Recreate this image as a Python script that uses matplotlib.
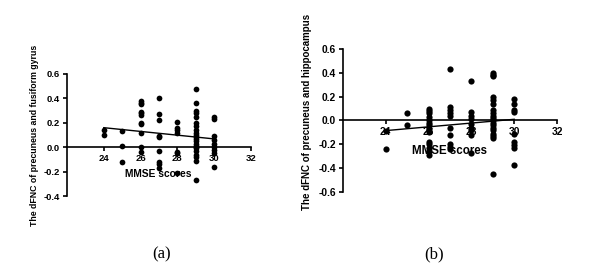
import matplotlib
matplotlib.use('Agg')
import matplotlib.pyplot as plt
import numpy as np

plt.rcParams['font.family'] = ['Liberation Sans', 'DejaVu Sans']
plt.rcParams['font.weight'] = 'bold'

# panel (a): MMSE vs dFNC precuneus-fusiform gyrus
mmse_a = ([24] * 2 + [25] * 3 + [26] * 11 + [27] * 9 + [28] * 7 + [29] * 22 + [30] * 9)
dfnc_a = [0.14, 0.10,
          0.13, 0.01, -0.12,
          0.38, 0.36, 0.35, 0.29, 0.28, 0.26, 0.20, 0.19, 0.12, 0.00, -0.04,
          0.40, 0.27, 0.22, 0.09, 0.08, -0.03, -0.12, -0.14, -0.17,
          0.21, 0.16, 0.14, 0.12, -0.04, -0.05, -0.21,
          0.48, 0.36, 0.30, 0.28, 0.25, 0.20, 0.17, 0.14, 0.12, 0.10, 0.08,
          0.07, 0.05, 0.03, 0.01, 0.00, -0.01, -0.03, -0.06, -0.08, -0.11, -0.27,
          0.25, 0.23, 0.09, 0.06, 0.03, 0.00, -0.02, -0.05, -0.16]
fit_x_a = [24, 30]
fit_y_a = [0.16, 0.068]

# panel (b): MMSE vs dFNC precuneus-hippocampus
mmse_b = ([24] * 2 + [25] * 2 + [26] * 14 + [27] * 10 + [28] * 9 + [29] * 19 + [30] * 9)
dfnc_b = [-0.24, -0.09,
          0.066, -0.04,
          0.10, 0.08, 0.06, 0.03, 0.00, -0.02, -0.04, -0.07, -0.10, -0.18, -0.20, -0.23, -0.26, -0.29,
          0.43, 0.11, 0.09, 0.06, 0.04, -0.06, -0.12, -0.20, -0.22, -0.24,
          0.33, 0.07, 0.04, 0.01, -0.03, -0.06, -0.08, -0.12, -0.27,
          0.40, 0.38, 0.37, 0.20, 0.17, 0.14, 0.09, 0.06, 0.04, 0.02, 0.00,
          -0.02, -0.04, -0.06, -0.08, -0.11, -0.13, -0.15, -0.45,
          0.18, 0.14, 0.09, 0.07, -0.11, -0.18, -0.21, -0.23, -0.37]
fit_x_b = [24, 30]
fit_y_b = [-0.085, 0.01]

xticks = [24, 26, 28, 30, 32]


def style(ax, ylim, yticks, fs):
    ax.set_xlim(22, 32)
    ax.set_ylim(*ylim)
    ax.spines['top'].set_visible(False)
    ax.spines['right'].set_visible(False)
    ax.spines['bottom'].set_position(('data', 0))
    ax.spines['left'].set_linewidth(1.2)
    ax.spines['bottom'].set_linewidth(1.2)
    ax.set_xticks(xticks)
    ax.set_yticks(yticks)
    ax.set_yticklabels(['%.1f' % v for v in yticks])
    ax.tick_params(length=3, width=1.2, labelsize=fs, pad=2)
    for lab in ax.get_xticklabels() + ax.get_yticklabels():
        lab.set_fontweight('bold')


fig = plt.figure(figsize=(6.1, 2.7), dpi=100)

ax1 = fig.add_axes([0.1098, 0.274, 0.3016, 0.452])
ax1.scatter(mmse_a, dfnc_a, s=17, color='black', zorder=3, linewidths=0)
ax1.plot(fit_x_a, fit_y_a, color='black', lw=1.0)
style(ax1, (-0.4, 0.6), [-0.4, -0.2, 0.0, 0.2, 0.4, 0.6], 6.8)
fig.text(158 / 610, 1 - 174 / 270, 'MMSE scores', ha='center', va='center',
         fontsize=7.4, fontweight='bold')
fig.text(35 / 610, 1 - 135 / 270, 'The dFNC of precuneus and fusiform gyrus',
         rotation=90, ha='center', va='center', fontsize=6.3, fontweight='bold')

ax2 = fig.add_axes([0.5623, 0.289, 0.3508, 0.5296])
ax2.scatter(mmse_b, dfnc_b, s=20, color='black', zorder=3, linewidths=0)
ax2.plot(fit_x_b, fit_y_b, color='black', lw=1.0)
style(ax2, (-0.6, 0.6), [-0.6, -0.4, -0.2, 0.0, 0.2, 0.4, 0.6], 7.4)
fig.text(450 / 610, 1 - 151 / 270, 'MMSE scores', ha='center', va='center',
         fontsize=8.3, fontweight='bold')
fig.text(307 / 610, 1 - 112 / 270, 'The dFNC of precuneus and hippocampus',
         rotation=90, ha='center', va='center', fontsize=7.0, fontweight='bold')

fig.text(162 / 610, 1 - 254 / 270, '(a)', ha='center', va='center',
         fontsize=12, family='Liberation Serif', fontweight='normal')
fig.text(434 / 610, 1 - 254 / 270, '(b)', ha='center', va='center',
         fontsize=12, family='Liberation Serif', fontweight='normal')

fig.savefig('out.png', dpi=100)
